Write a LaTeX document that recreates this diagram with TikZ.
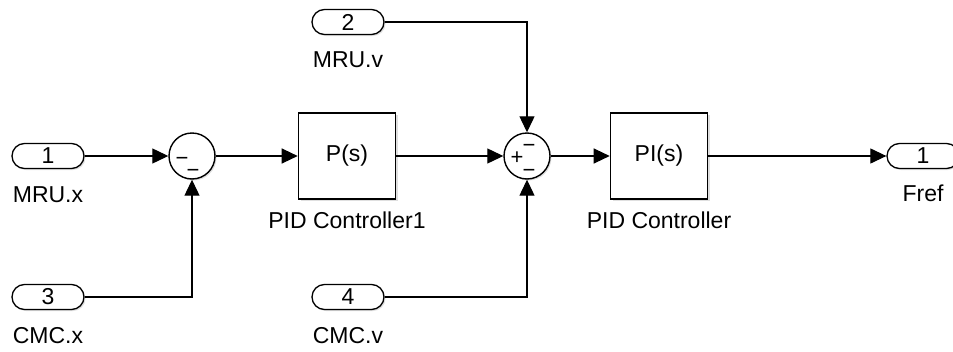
\documentclass[tikz,border=0pt]{standalone}
\usepackage{fontspec}
\setmainfont{Liberation Sans}
\usetikzlibrary{arrows.meta,positioning,shadows,calc}

\begin{document}
\begin{tikzpicture}[
x=1pt, y=-1pt,
every node/.style={font=\fontsize{23}{27}\selectfont},
port/.style={
    draw,
    rectangle,
    rounded corners=12.5pt,
    line width=1.3pt,
    minimum width=72pt,
    minimum height=25pt,
    inner sep=0pt,
    fill=white,
    drop shadow={opacity=0.25, shadow xshift=1.5pt, shadow yshift=-1.5pt}
},
block/.style={
    draw,
    line width=1.6pt,
    minimum width=97pt,
    minimum height=86pt,
    fill=white,
    drop shadow={opacity=0.25, shadow xshift=2pt, shadow yshift=-2pt}
},
sum/.style={
    draw,
    circle,
    line width=1.4pt,
    minimum size=46pt,
    inner sep=0pt,
    fill=white,
    drop shadow={opacity=0.25, shadow xshift=1.5pt, shadow yshift=-1.5pt}
},
sgn/.style={font=\fontsize{22}{26}\selectfont, inner sep=0pt},
lbl/.style={inner sep=0pt},
arrow/.style={-{Triangle[length=16pt,width=15pt]}, line width=1.2pt}
]

\useasboundingbox (0,0) rectangle (953,351);
\clip (0,0) rectangle (953,351);

% inports / outport
\node[port] (in1) at (48,156) {1};
\node[port] (in2) at (348,22) {2};
\node[port] (in3) at (48,297) {3};
\node[port] (in4) at (348,297) {4};
\node[port] (out1) at (923,156) {1};

\node[lbl, below=17pt of in1] (in1name) {MRU.x};
\node[lbl, below=16pt of in2] (in2name) {MRU.v};
\node[lbl, below=17pt of in3] (in3name) {CMC.x};
\node[lbl, below=17pt of in4] (in4name) {CMC.v};
\node[lbl, below=16pt of out1] (out1name) {Fref};

% sums
\node[sum] (sum1) at (192,156) {};
\node[sgn] at ($(sum1)+(-10,5)$) {−};
\node[sgn] at ($(sum1)+(1,17)$) {−};

\node[sum] (sum2) at (527,156) {};
\node[sgn] at ($(sum2)+(-10,2)$) {+};
\node[sgn] at ($(sum2)+(2,-8)$) {−};
\node[sgn] at ($(sum2)+(2,17)$) {−};

% controllers
\node[block] (pid1) at (347,156) {P(s)};
\node[lbl, below=12pt of pid1] (pid1name) {PID Controller1};
\node[block] (pid2) at (659,156) {PI(s)};
\node[lbl, below=12pt of pid2] (pid2name) {PID Controller};

\draw[arrow] (in1) -- (sum1);
\draw[arrow] (sum1) -- (pid1);
\draw[arrow] (pid1) -- (sum2);
\draw[arrow] (sum2) -- (pid2);
\draw[arrow] (pid2) -- (out1);
\draw[arrow] (in2) -| (sum2);
\draw[arrow] (in3) -| (sum1);
\draw[arrow] (in4) -| (sum2);

\end{tikzpicture}
\end{document}
